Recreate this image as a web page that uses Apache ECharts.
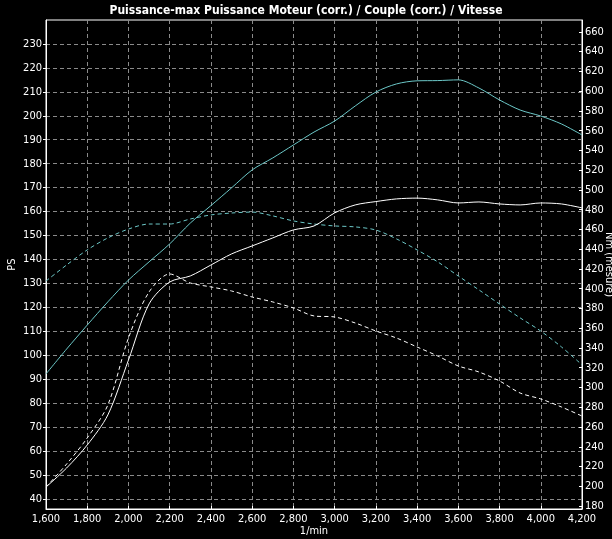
<!DOCTYPE html>
<html>
<head>
<meta charset="utf-8">
<script src="https://cdn.jsdelivr.net/npm/echarts@6/dist/echarts.min.js"></script>
<style>
html,body{margin:0;padding:0;background:#000;}
#c{width:612px;height:539px;}
</style>
</head>
<body>
<div id="c"></div>
<script>
const rpm = [1600,1700,1800,1900,2000,2100,2200,2300,2400,2500,2600,2700,2800,2900,3000,3100,3200,3300,3400,3500,3600,3700,3800,3900,4000,4100,4200];
// Power (PS, left axis)
const powerCorr = [92.2,102.6,112.6,122.3,131.4,139.0,146.5,155.2,162.5,169.9,177.4,182.4,187.8,193.2,197.8,204.1,209.9,213.3,214.6,214.7,215.0,211.6,206.6,202.4,199.9,196.6,192.0];
const powerRef  = [131.0,137.7,144.0,149.0,152.7,154.8,154.8,156.9,158.6,159.4,159.8,158.2,156.1,154.8,154.0,153.6,152.3,148.6,144.0,139.0,133.1,127.3,121.4,115.6,110.1,103.5,96.0];
// Torque (Nm, right axis)
const torqueCorr = [199.2,218.5,241.8,272.2,327.8,384.6,406.8,412.9,424.0,435.2,443.3,451.4,459.5,463.5,476.7,484.8,488.2,490.9,491.7,489.9,486.8,487.8,485.8,484.8,486.8,485.8,481.8];
const torqueRef  = [199.2,222.5,248.9,282.3,350.1,396.7,414.9,405.8,401.8,397.7,391.6,386.6,380.5,372.4,371.4,365.3,357.2,350.1,341.0,331.9,321.8,315.7,306.6,294.4,288.4,280.3,271.1];

const leftTicks = [40,50,60,70,80,90,100,110,120,130,140,150,160,170,180,190,200,210,220,230];
const rightTicks = [180,200,220,240,260,280,300,320,340,360,380,400,420,440,460,480,500,520,540,560,580,600,620,640,660];

const titleText = 'Puissance-max Puissance Moteur (corr.) / Couple (corr.) / Vitesse';
const xName = '1/min';
const leftName = 'PS';
const rightName = 'Nm (mesure)';

const FONT = "'DejaVu Sans Condensed','Liberation Sans Narrow','DejaVu Sans',sans-serif";
const STYLE = 'normal condensed';
const CYAN = '#6cc8c8';
const GRID = '#8a8a8a';

function pairs(xs, ys){ return xs.map((x,i)=>[x, ys[i]]); }

const txt = (size, weight) => ({color:'#fff', fontSize:size, fontWeight:weight||'normal', fontStyle:STYLE, fontFamily:FONT});

const chart = echarts.init(document.getElementById('c'), null, {renderer:'canvas'});
chart.setOption({
  backgroundColor:'#000',
  animation:false,
  title:{text:titleText, left:'center', top:0, textStyle:txt(12,'bold')},
  grid:{left:46, right:30, top:20, bottom:30, outerBoundsMode:'none', containLabel:false, show:true, borderColor:'#fff', borderWidth:1, backgroundColor:'#000'},
  xAxis:{
    type:'value', min:1600, max:4200, interval:200,
    name:xName, nameLocation:'middle', nameGap:17, nameMoveOverlap:false,
    nameTextStyle:txt(11),
    axisLine:{show:true, lineStyle:{color:'#fff'}},
    axisTick:{show:true, inside:true, length:3, lineStyle:{color:'#fff'}},
    axisLabel:Object.assign(txt(11), {margin:5, formatter:v=>v.toLocaleString('en-US')}),
    splitLine:{show:true, lineStyle:{color:GRID, type:[4,3], width:1}}
  },
  yAxis:[{
    type:'value', min:35.8, max:240, position:'left',
    name:leftName, nameLocation:'middle', nameGap:28, nameRotate:90, nameMoveOverlap:false,
    nameTextStyle:txt(11),
    axisLine:{show:true, lineStyle:{color:'#fff'}},
    axisTick:{show:true, length:3, customValues:leftTicks, lineStyle:{color:'#fff'}},
    axisLabel:Object.assign(txt(11), {margin:4, customValues:leftTicks}),
    splitLine:{show:true, lineStyle:{color:GRID, type:[4,3], width:1}}
  },{
    type:'value', min:177, max:672, position:'right',
    name:rightName, nameLocation:'middle', nameGap:21, nameRotate:-90, nameMoveOverlap:false,
    nameTextStyle:txt(11),
    axisLine:{show:true, lineStyle:{color:'#fff'}},
    axisTick:{show:true, inside:true, length:3, customValues:rightTicks, lineStyle:{color:'#fff'}},
    axisLabel:Object.assign(txt(11), {margin:3, customValues:rightTicks}),
    splitLine:{show:false}
  }],
  series:[
    {type:'line', yAxisIndex:0, data:pairs(rpm,powerCorr), showSymbol:false, smooth:0.3, lineStyle:{color:CYAN, width:1}},
    {type:'line', yAxisIndex:0, data:pairs(rpm,powerRef), showSymbol:false, smooth:0.3, lineStyle:{color:CYAN, width:1, type:[4,3]}},
    {type:'line', yAxisIndex:1, data:pairs(rpm,torqueCorr), showSymbol:false, smooth:0.3, lineStyle:{color:'#fff', width:1}},
    {type:'line', yAxisIndex:1, data:pairs(rpm,torqueRef), showSymbol:false, smooth:0.3, lineStyle:{color:'#fff', width:1, type:[4,3]}}
  ]
});
</script>
</body>
</html>
